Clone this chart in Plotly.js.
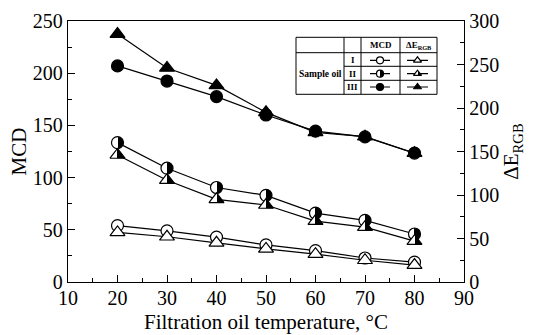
<!DOCTYPE html>
<html>
<head>
<meta charset="utf-8">
<script src="https://cdn.plot.ly/plotly-3.0.1.min.js"></script>
<style>
html,body{margin:0;padding:0;background:#fff;}
#graph{width:534px;height:335px;}
</style>
</head>
<body>
<div id="graph"></div>
<script>
// ---- data ----
var temperature = [20, 30, 40, 50, 60, 70, 80];
var mcdI   = [54, 49, 43, 35.5, 30, 23, 19];
var mcdII  = [133.5, 109, 90.5, 83, 66, 59, 46];
var mcdIII = [207, 192.5, 177.5, 160, 144.5, 139, 123.5];
var deI    = [57, 52, 45, 38, 32, 25, 19.5];
var deII   = [146, 117, 95, 88.5, 70, 63, 47];
var deIII  = [285, 246, 226, 195, 172, 167, 148];
var sampleNames = ['I', 'II', 'III'];

// ---- layout helpers ----
var FONT = '"Liberation Serif", "Times New Roman", serif';
var L = 68, R = 464, T = 21, B = 282;
function px(x) { return (x - L) / (R - L); }
function py(y) { return (B - y) / (B - T); }

// I: open, II: left white / right black, III: filled
var styles = [
  {fill: 'white', grad: null},
  {fill: 'white', grad: {type: 'horizontal', color: 'black'}},
  {fill: 'black', grad: null}
];

function mk(symbol, size, st) {
  var m = {symbol: symbol, size: size, color: st.fill, line: {color: 'black', width: 1.2}};
  if (st.grad) m.gradient = st.grad;
  return m;
}

var mcdSeries = [mcdI, mcdII, mcdIII];
var deSeries = [deI, deII, deIII];
var data = [];
for (var i = 0; i < 3; i++) {
  data.push({
    x: temperature, y: deSeries[i], yaxis: 'y2', type: 'scatter', mode: 'lines+markers',
    line: {color: 'black', width: 1.2}, marker: mk('triangle-up', 13, styles[i]),
    showlegend: false, hoverinfo: 'skip', cliponaxis: false
  });
}
for (var i = 0; i < 3; i++) {
  data.push({
    x: temperature, y: mcdSeries[i], type: 'scatter', mode: 'lines+markers',
    line: {color: 'black', width: 1.2}, marker: mk('circle', 12, styles[i]),
    showlegend: false, hoverinfo: 'skip', cliponaxis: false
  });
}

// ---- table-style key (drawn in its own small axes) ----
var tblX0 = 296, tblX1 = 437, tblY0 = 37.3, tblY1 = 94.3;
var colA = 344, colB = 361, colC = 400;
var rowH = 52.7, rowLines = [66.3, 80.3];
var rowCenters = [60.3, 73.7, 87];
var keyMcd = [370, 380, 390], keyDe = [407, 417.5, 428];
for (var i = 0; i < 3; i++) {
  var yc = rowCenters[i];
  data.push({x: [keyMcd[0], keyMcd[2], null, keyDe[0], keyDe[2]], y: [yc, yc, null, yc, yc],
    xaxis: 'x3', yaxis: 'y3', mode: 'lines', line: {color: 'black', width: 1.2},
    showlegend: false, hoverinfo: 'skip'});
  data.push({x: [keyMcd[1]], y: [yc], xaxis: 'x3', yaxis: 'y3', mode: 'markers',
    marker: mk('circle', 7, styles[i]), showlegend: false, hoverinfo: 'skip'});
  data.push({x: [keyDe[1]], y: [yc], xaxis: 'x3', yaxis: 'y3', mode: 'markers',
    marker: mk('triangle-up', 7, styles[i]), showlegend: false, hoverinfo: 'skip'});
}

var lineStyle = {color: 'black', width: 1};
var shapes = [
  {type: 'rect', xref: 'paper', yref: 'paper', x0: px(tblX0), x1: px(tblX1), y0: py(tblY1), y1: py(tblY0), line: lineStyle},
  {type: 'line', xref: 'paper', yref: 'paper', x0: px(colA), x1: px(colA), y0: py(tblY1), y1: py(tblY0), line: lineStyle},
  {type: 'line', xref: 'paper', yref: 'paper', x0: px(colB), x1: px(colB), y0: py(tblY1), y1: py(tblY0), line: lineStyle},
  {type: 'line', xref: 'paper', yref: 'paper', x0: px(colC), x1: px(colC), y0: py(tblY1), y1: py(tblY0), line: lineStyle},
  {type: 'line', xref: 'paper', yref: 'paper', x0: px(tblX0), x1: px(tblX1), y0: py(rowH), y1: py(rowH), line: lineStyle}
];
rowLines.forEach(function (yy) {
  shapes.push({type: 'line', xref: 'paper', yref: 'paper', x0: px(colA), x1: px(tblX1), y0: py(yy), y1: py(yy), line: lineStyle});
});

function note(x, y, text, size) {
  return {xref: 'paper', yref: 'paper', x: px(x), y: py(y), xanchor: 'center', yanchor: 'middle',
    text: text, showarrow: false, font: {family: FONT, size: size || 9, color: 'black'}};
}
var annotations = [
  note((colB + colC) / 2, 45.3, '<b>MCD</b>'),
  note((colC + tblX1) / 2, 45.3, '<b>ΔE<sub>RGB</sub></b>'),
  note((tblX0 + colA) / 2, rowCenters[1], '<b>Sample oil</b>', 9.5)
];
for (var i = 0; i < 3; i++) {
  annotations.push(note((colA + colB) / 2, rowCenters[i], '<b>' + sampleNames[i] + '</b>'));
}

var tickFont = {family: FONT, size: 20, color: 'black'};
var titleFont = {family: FONT, size: 21, color: 'black'};
var layout = {
  width: 534, height: 335,
  margin: {l: L, r: 534 - R, t: T, b: 335 - B, pad: 0},
  paper_bgcolor: 'white', plot_bgcolor: 'white',
  font: {family: FONT, color: 'black'},
  showlegend: false,
  xaxis: {
    range: [10, 90], tick0: 10, dtick: 10, ticks: 'inside', ticklen: 7, tickwidth: 1, tickcolor: 'black',
    minor: {dtick: 5, ticks: 'inside', ticklen: 4, tickwidth: 1, tickcolor: 'black'},
    showline: true, linecolor: 'black', linewidth: 1.2, mirror: true, ticklabelstandoff: -2,
    showgrid: false, zeroline: false, tickfont: tickFont,
    title: {text: 'Filtration oil temperature, °C', font: titleFont, standoff: 6}
  },
  yaxis: {
    range: [0, 250], tick0: 0, dtick: 50, ticks: 'inside', ticklen: 7, tickwidth: 1, tickcolor: 'black',
    minor: {dtick: 25, ticks: 'inside', ticklen: 4, tickwidth: 1, tickcolor: 'black'},
    showline: true, linecolor: 'black', linewidth: 1.2, mirror: true,
    showgrid: false, zeroline: false, tickfont: tickFont,
    title: {text: 'MCD', font: titleFont, standoff: 0}
  },
  yaxis2: {
    overlaying: 'y', side: 'right', anchor: 'x',
    range: [0, 300], tick0: 0, dtick: 50, ticks: 'inside', ticklen: 7, tickwidth: 1, tickcolor: 'black',
    minor: {dtick: 25, ticks: 'inside', ticklen: 4, tickwidth: 1, tickcolor: 'black'},
    showline: true, linecolor: 'black', linewidth: 1.2,
    showgrid: false, zeroline: false, tickfont: tickFont,
    title: {text: 'ΔE<sub>RGB</sub>', font: titleFont, standoff: 2}
  },
  xaxis3: {domain: [px(colB), px(tblX1)], range: [colB, tblX1], anchor: 'y3', visible: false, fixedrange: true},
  yaxis3: {domain: [py(tblY1), py(rowH)], range: [tblY1, rowH], anchor: 'x3', visible: false, fixedrange: true},
  shapes: shapes,
  annotations: annotations
};

var gd = document.getElementById('graph');

// make the half-filled markers split sharply into a white half and a black half
function sharpenGradients() {
  var grads = gd.querySelectorAll('linearGradient');
  grads.forEach(function (g) {
    var stops = g.querySelectorAll('stop');
    if (stops.length < 2) return;
    var a = stops[0], b = stops[stops.length - 1];
    var c0 = a.getAttribute('stop-color'), o0 = a.getAttribute('stop-opacity') || '1';
    var c1 = b.getAttribute('stop-color'), o1 = b.getAttribute('stop-opacity') || '1';
    while (g.firstChild) g.removeChild(g.firstChild);
    [['0%', c0, o0], ['50%', c0, o0], ['50%', c1, o1], ['100%', c1, o1]].forEach(function (s) {
      var st = document.createElementNS('http://www.w3.org/2000/svg', 'stop');
      st.setAttribute('offset', s[0]);
      st.setAttribute('stop-color', s[1]);
      st.setAttribute('stop-opacity', s[2]);
      g.appendChild(st);
    });
  });
}

Plotly.newPlot(gd, data, layout, {displayModeBar: false, staticPlot: true}).then(sharpenGradients);
</script>
</body>
</html>
